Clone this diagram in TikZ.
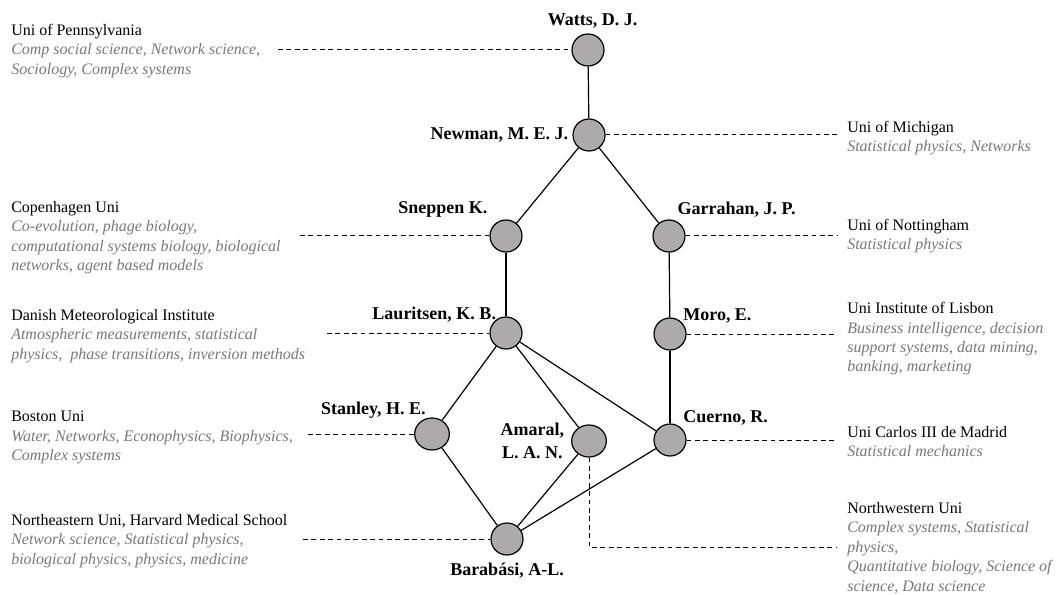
\documentclass[tikz,border=0pt]{standalone}
\usepackage{fontspec}
\setmainfont{Liberation Serif}
\usepackage{xcolor}
\usetikzlibrary{positioning, shapes.geometric}

\definecolor{nodegrey}{RGB}{172,170,170}
\definecolor{fieldgrey}{RGB}{120,120,120}
\newcommand{\fieldline}[1]{\textcolor{fieldgrey}{\itshape #1}}

\begin{document}
\begin{tikzpicture}[
    x=0.75pt, y=-0.75pt,
    font=\fontsize{12}{14.6}\selectfont,
    person/.style={
      circle,
      draw,
      line width=0.9pt,
      fill=nodegrey,
      minimum size=24pt,
      inner sep=0pt
    },
    wideperson/.style={
      person,
      ellipse,
      minimum width=26pt,
      minimum height=24pt
    },
    authorname/.style={
      font=\bfseries\fontsize{13.5}{17}\selectfont,
      align=center,
      inner sep=0pt
    },
    info/.style={
      anchor=north west,
      align=left,
      inner sep=0pt
    },
    tie/.style={
      line width=0.9pt
    },
    link/.style={
      line width=0.75pt,
      dash pattern=on 3.6pt off 2.7pt
    }
  ]
    \useasboundingbox (0,0) rectangle (1060,595);

    % Researchers
    \node[person] (watts) at (588,50) {};
    \node[person] (newman) at (589,135) {};
    \node[person] (sneppen) at (506,236) {};
    \node[person] (garrahan) at (669,236) {};
    \node[person] (lauritsen) at (506,333) {};
    \node[person] (moro) at (670,334) {};
    \node[wideperson] (stanley) at (432,434) {};
    \node[wideperson] (amaral) at (589,441) {};
    \node[person] (cuerno) at (670,440) {};
    \node[person] (barabasi) at (507,539) {};

    % Names
    \node[authorname, above=3.5pt of watts, xshift=3.5pt] (wattsname) {Watts, D. J.};
    \node[authorname, left=3pt of newman] (newmanname) {Newman, M. E. J.};
    \node[authorname, above left=5pt and 5pt of sneppen] (sneppenname) {Sneppen K.};
    \node[authorname, above right=5pt and -2.5pt of garrahan] (garrahanname) {Garrahan, J. P.};
    \node[authorname, above left=-1pt and -1.5pt of lauritsen] (lauritsenname) {Lauritsen, K. B.};
    \node[authorname, above right=-1pt and 1pt of moro] (moroname) {Moro, E.};
    \node[authorname, above left=2.5pt and -5pt of stanley] (stanleyname) {Stanley, H. E.};
    \node[authorname, left=5pt of amaral] (amaralname) {Amaral,\\L. A. N.};
    \node[authorname, above right=2pt and 1pt of cuerno] (cuernoname) {Cuerno, R.};
    \node[authorname, below=5.5pt of barabasi] (barabasiname) {Barabási, A-L.};

    % Collaboration ties
    \draw[tie] (watts) -- (newman);
    \draw[tie] (newman) -- (sneppen);
    \draw[tie] (newman) -- (garrahan);
    \draw[tie] (sneppen) -- (lauritsen);
    \draw[tie] (garrahan) -- (moro);
    \draw[tie] (lauritsen) -- (stanley);
    \draw[tie] (lauritsen) -- (amaral);
    \draw[tie] (lauritsen) -- (cuerno);
    \draw[tie] (moro) -- (cuerno);
    \draw[tie] (stanley) -- (barabasi);
    \draw[tie] (amaral) -- (barabasi);
    \draw[tie] (cuerno) -- (barabasi);

    % Affiliations, left side
    \node[info] (penn) at (11,24)
      {Uni of Pennsylvania\\\fieldline{Comp social science, Network science,}\\\fieldline{Sociology, Complex systems}};
    \node[info] (copenhagen) at (11,201)
      {Copenhagen Uni\\\fieldline{Co-evolution, phage biology,}\\\fieldline{computational systems biology, biological}\\\fieldline{networks, agent based models}};
    \node[info] (danish) at (11,309)
      {Danish Meteorological Institute\\\fieldline{Atmospheric measurements, statistical}\\\fieldline{physics,\ \ phase transitions, inversion methods}};
    \node[info] (boston) at (11,411)
      {Boston Uni\\\fieldline{Water, Networks, Econophysics, Biophysics,}\\\fieldline{Complex systems}};
    \node[info] (northeastern) at (11,514)
      {Northeastern Uni, Harvard Medical School\\\fieldline{Network science, Statistical physics,}\\\fieldline{biological physics, physics, medicine}};

    % Affiliations, right side
    \node[info] (michigan) at (847,121)
      {Uni of Michigan\\\fieldline{Statistical physics, Networks}};
    \node[info] (nottingham) at (847,219)
      {Uni of Nottingham\\\fieldline{Statistical physics}};
    \node[info] (lisbon) at (847,302)
      {Uni Institute of Lisbon\\\fieldline{Business intelligence, decision}\\\fieldline{support systems, data mining,}\\\fieldline{banking, marketing}};
    \node[info] (madrid) at (847,426)
      {Uni Carlos III de Madrid\\\fieldline{Statistical mechanics}};
    \node[info] (northwestern) at (847,502)
      {Northwestern Uni\\\fieldline{Complex systems, Statistical}\\\fieldline{physics,}\\\fieldline{Quantitative biology, Science of}\\\fieldline{science, Data science}};

    % Dashed leaders
    \coordinate (pennend) at (278,50);
    \coordinate (copenhagenend) at (300,236);
    \coordinate (danishend) at (327,333);
    \coordinate (bostonend) at (308,434);
    \coordinate (northeasternend) at (303,539);
    \coordinate (michiganend) at (837,135);
    \coordinate (nottinghamend) at (837,236);
    \coordinate (lisbonend) at (837,334);
    \coordinate (madridend) at (837,440);
    \coordinate (northwesternend) at (837,547);

    \draw[link] (pennend) -- (watts);
    \draw[link] (copenhagenend) -- (sneppen);
    \draw[link] (danishend) -- (lauritsen);
    \draw[link] (bostonend) -- (stanley);
    \draw[link] (northeasternend) -- (barabasi);
    \draw[link] (newman) -- (michiganend);
    \draw[link] (garrahan) -- (nottinghamend);
    \draw[link] (moro) -- (lisbonend);
    \draw[link] (cuerno) -- (madridend);
    \draw[link] (amaral) |- (northwesternend);

  \end{tikzpicture}
\end{document}
